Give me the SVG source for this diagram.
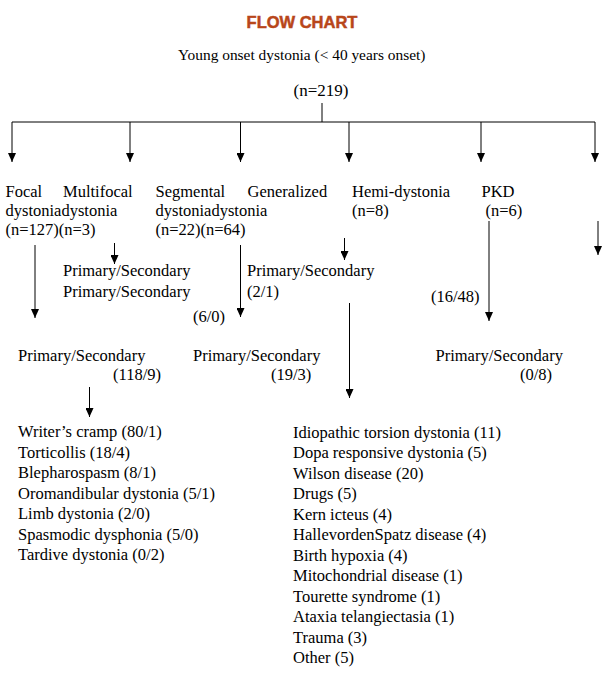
<svg xmlns="http://www.w3.org/2000/svg" width="612" height="677" viewBox="0 0 612 677">
<defs>
<marker id="ah" markerUnits="userSpaceOnUse" markerWidth="10" markerHeight="8" viewBox="0 0 10 8" refX="9" refY="4" orient="auto">
<path d="M0,0 L9,4 L0,8 z" fill="#000"/>
</marker>
<style>
text{font-family:"Liberation Serif","Times New Roman",serif;font-size:16.5px;fill:#000}
.title{font-family:"Liberation Sans",Arial,sans-serif;font-weight:bold;font-size:16.5px;fill:#B8461A;stroke:#B8461A;stroke-width:0.5}
.c line{stroke:#000;stroke-width:1}
.c line.a{marker-end:url(#ah)}
</style>
</defs>
<rect width="612" height="677" fill="#fff"/>
<g id="header">
<text class="title" x="302" y="28" text-anchor="middle">FLOW CHART</text>
<text x="178" y="60" style="font-size:15.4px">Young onset dystonia (&lt; 40 years onset)</text>
<text x="321" y="96" text-anchor="middle" style="font-size:17px">(n=219)</text>
</g>
<g class="c" id="connectors">
<line x1="322" y1="103" x2="322" y2="122"/>
<line x1="12" y1="122" x2="595" y2="122"/>
<line class="a" x1="12" y1="122" x2="12" y2="162"/>
<line class="a" x1="130" y1="122" x2="130" y2="162"/>
<line class="a" x1="240.5" y1="122" x2="240.5" y2="162"/>
<line class="a" x1="349" y1="122" x2="349" y2="162"/>
<line class="a" x1="481" y1="122" x2="481" y2="162"/>
<line class="a" x1="595" y1="122" x2="595" y2="162"/>
<line class="a" x1="35" y1="245" x2="35" y2="318"/>
<line class="a" x1="114.5" y1="243" x2="114.5" y2="264"/>
<line class="a" x1="240.5" y1="245" x2="240.5" y2="317"/>
<line class="a" x1="344.5" y1="238" x2="344.5" y2="260"/>
<line class="a" x1="349.5" y1="303" x2="349.5" y2="398"/>
<line class="a" x1="489" y1="221" x2="489" y2="321"/>
<line class="a" x1="598" y1="221" x2="598" y2="255"/>
<line class="a" x1="89.5" y1="387" x2="89.5" y2="417"/>
</g>
<g id="focal">
<text x="5.5" y="197">Focal</text>
<text x="5.5" y="216">dystonia</text>
<text x="5.5" y="235">(n=127)</text>
</g>
<g id="multifocal">
<text x="63" y="197">Multifocal</text>
<text x="61.42" y="216">dystonia</text>
<text x="58.8" y="235">(n=3)</text>
</g>
<g id="segmental">
<text x="155.5" y="197">Segmental</text>
<text x="155.5" y="216">dystonia</text>
<text x="155.5" y="235">(n=22)</text>
</g>
<g id="generalized">
<text x="247.5" y="197">Generalized</text>
<text x="211.42" y="216">dystonia</text>
<text x="200.55" y="235">(n=64)</text>
</g>
<g id="hemi">
<text x="352" y="197">Hemi-dystonia</text>
<text x="352" y="216">(n=8)</text>
</g>
<g id="pkd">
<text x="481.5" y="197">PKD</text>
<text x="485.5" y="216">(n=6)</text>
</g>
<g id="multifocal-ps">
<text x="63" y="276">Primary/Secondary</text>
<text x="63" y="297">Primary/Secondary</text>
</g>
<g id="generalized-ps">
<text x="247" y="276">Primary/Secondary</text>
<text x="247" y="297">(2/1)</text>
</g>
<g id="segmental-count">
<text x="193" y="322">(6/0)</text>
</g>
<g id="pkd-count">
<text x="431" y="302">(16/48)</text>
</g>
<g id="focal-ps">
<text x="18" y="361">Primary/Secondary</text>
<text x="113" y="380">(118/9)</text>
</g>
<g id="segmental-ps">
<text x="193" y="361">Primary/Secondary</text>
<text x="271" y="380">(19/3)</text>
</g>
<g id="pkd-ps">
<text x="435.5" y="361">Primary/Secondary</text>
<text x="520" y="380">(0/8)</text>
</g>
<g id="focal-list">
<text x="18" y="437">Writer’s cramp (80/1)</text>
<text x="18" y="457.5">Torticollis (18/4)</text>
<text x="18" y="478">Blepharospasm (8/1)</text>
<text x="18" y="498.5">Oromandibular dystonia (5/1)</text>
<text x="18" y="519">Limb dystonia (2/0)</text>
<text x="18" y="539.5">Spasmodic dysphonia (5/0)</text>
<text x="18" y="560">Tardive dystonia (0/2)</text>
</g>
<g id="generalized-list">
<text x="293" y="438">Idiopathic torsion dystonia (11)</text>
<text x="293" y="458.45">Dopa responsive dystonia (5)</text>
<text x="293" y="478.9">Wilson disease (20)</text>
<text x="293" y="499.35">Drugs (5)</text>
<text x="293" y="519.8">Kern icteus (4)</text>
<text x="293" y="540.25">HallevordenSpatz disease (4)</text>
<text x="293" y="560.7">Birth hypoxia (4)</text>
<text x="293" y="581.15">Mitochondrial disease (1)</text>
<text x="293" y="601.6">Tourette syndrome (1)</text>
<text x="293" y="622.05">Ataxia telangiectasia (1)</text>
<text x="293" y="642.5">Trauma (3)</text>
<text x="293" y="662.95">Other (5)</text>
</g>
</svg>
